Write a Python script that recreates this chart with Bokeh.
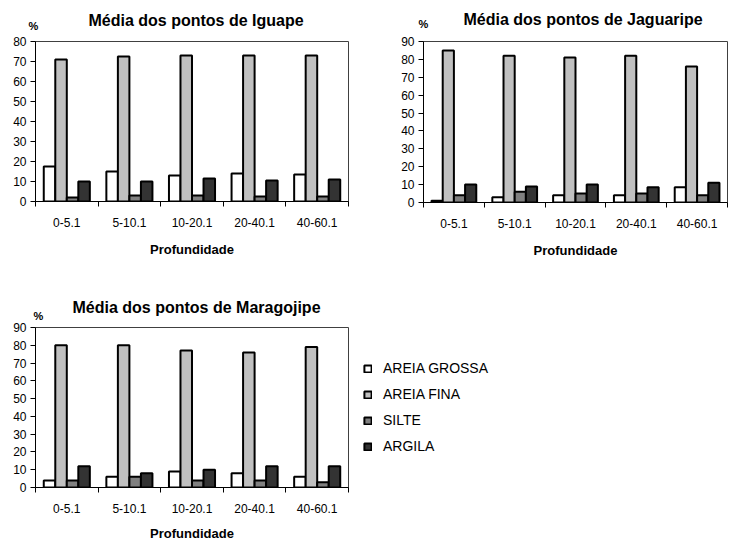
from bokeh.plotting import figure
from bokeh.models import (Range1d, FixedTicker, Title, Legend, LegendItem, ColumnDataSource)
from bokeh.transform import dodge
from bokeh.layouts import column, row
from bokeh.embed import file_html
from bokeh.resources import INLINE

# ---------------- data ----------------
categories = ["0-5.1", "5-10.1", "10-20.1", "20-40.1", "40-60.1"]
series_names = ["AREIA GROSSA", "AREIA FINA", "SILTE", "ARGILA"]

iguape_areia_grossa = [17.5, 15, 13, 14, 13.5]
iguape_areia_fina = [71, 72.5, 73, 73, 73]
iguape_silte = [2, 3, 3, 2.5, 2.5]
iguape_argila = [10, 10, 11.5, 10.5, 11]

jaguaripe_areia_grossa = [1, 3, 4, 4, 8.5]
jaguaripe_areia_fina = [85, 82, 81, 82, 76]
jaguaripe_silte = [4, 6, 5, 5, 4]
jaguaripe_argila = [10, 9, 10, 8.5, 11]

maragojipe_areia_grossa = [4, 6, 9, 8, 6]
maragojipe_areia_fina = [80, 80, 77, 76, 79]
maragojipe_silte = [4, 6, 4, 4, 3]
maragojipe_argila = [12, 8, 10, 12, 12]

y_ticks_iguape = [0, 10, 20, 30, 40, 50, 60, 70, 80]
y_ticks_90 = [0, 10, 20, 30, 40, 50, 60, 70, 80, 90]

# ---------------- style ----------------
FONT = "Liberation Sans"
COLORS = ["#FFFFFF", "#C0C0C0", "#808080", "#333333"]
OFFSETS = [-0.276, -0.092, 0.092, 0.276]
BAR_W = 0.184

N = len(categories)
cat_centers = [i + 0.5 for i in range(N)]
cat_edges = list(range(N + 1))


def make_chart(title, series, y_ticks, frame_w, frame_h, bl, br, bt, bb,
               title_off, pct_off, pct_standoff, title_standoff, xlabel_standoff,
               legend=False):
    p = figure(x_range=Range1d(0, N),
               y_range=Range1d(0, y_ticks[-1]),
               frame_width=frame_w, frame_height=frame_h,
               min_border_left=bl, min_border_right=br,
               min_border_top=bt, min_border_bottom=bb,
               toolbar_location=None, tools="",
               output_backend="svg")
    p.xgrid.visible = False
    p.ygrid.visible = False
    p.outline_line_color = "#404040"
    p.outline_line_width = 1
    p.background_fill_color = "white"
    p.border_fill_color = "white"

    # y axis
    ya = p.yaxis[0]
    ya.ticker = FixedTicker(ticks=y_ticks)
    ya.axis_line_color = "black"
    ya.major_tick_line_color = "black"
    ya.major_tick_in = 0
    ya.major_tick_out = 5
    ya.minor_tick_line_color = None
    ya.major_label_text_font = FONT
    ya.major_label_text_font_size = "12px"
    ya.major_label_text_color = "black"
    ya.major_label_standoff = 4

    # x axis: labels at category centres, tick marks at category edges
    xa = p.xaxis[0]
    xa.ticker = FixedTicker(ticks=cat_centers, minor_ticks=cat_edges)
    xa.major_label_overrides = {c: t for c, t in zip(cat_centers, categories)}
    xa.major_tick_line_color = None
    xa.major_tick_in = 0
    xa.major_tick_out = 0
    xa.minor_tick_line_color = "black"
    xa.minor_tick_in = 0
    xa.minor_tick_out = 5
    xa.axis_line_color = "black"
    xa.major_label_text_font = FONT
    xa.major_label_text_font_size = "12px"
    xa.major_label_text_color = "black"
    xa.major_label_standoff = 11
    xa.axis_label = "Profundidade"
    xa.axis_label_text_font = FONT
    xa.axis_label_text_font_size = "13px"
    xa.axis_label_text_font_style = "bold"
    xa.axis_label_text_color = "black"
    xa.axis_label_standoff = xlabel_standoff

    data = {"cat": categories, "pos": cat_centers}
    for name, vals in zip(series_names, series):
        data[name] = vals
    src = ColumnDataSource(data)
    renderers = []
    for name, off, col in zip(series_names, OFFSETS, COLORS):
        r = p.vbar(x=dodge("pos", off), top=name, width=BAR_W,
                   source=src, fill_color=col, line_color="black", line_width=2)
        renderers.append(r)

    p.add_layout(Title(text="%", align="left", offset=pct_off, standoff=pct_standoff,
                       text_font=FONT, text_font_size="11px", text_font_style="bold",
                       text_color="black"), "above")
    p.add_layout(Title(text=title, align="left", offset=title_off, standoff=title_standoff,
                       text_font=FONT, text_font_size="16px", text_font_style="bold",
                       text_color="black"), "above")

    if legend:
        items = [LegendItem(label=n, renderers=[r]) for n, r in zip(series_names, renderers)]
        lg = Legend(items=items, location="center_left", orientation="vertical",
                    border_line_color=None, background_fill_alpha=0,
                    label_text_font=FONT, label_text_font_size="14px",
                    label_text_color="black",
                    glyph_width=9, glyph_height=9, label_height=16,
                    spacing=10, label_standoff=11, margin=15, padding=10)
        p.add_layout(lg, "right")
    return p


p1 = make_chart("Média dos pontos de Iguape",
                [iguape_areia_grossa, iguape_areia_fina, iguape_silte, iguape_argila],
                y_ticks_iguape, 313, 160, 35, 22, 41, 67, 53, -7, 20, -43, 12)
p2 = make_chart("Média dos pontos de Jaguaripe",
                [jaguaripe_areia_grossa, jaguaripe_areia_fina, jaguaripe_silte, jaguaripe_argila],
                y_ticks_90, 304, 161, 53, 4, 39, 68, 40, -5, 24, -48, 12)
p3 = make_chart("Média dos pontos de Maragojipe",
                [maragojipe_areia_grossa, maragojipe_areia_fina, maragojipe_silte, maragojipe_argila],
                y_ticks_90, 313, 160, 35, 10, 59, 54, 37, -2, 11, -26, 10, legend=True)

layout = column(row(p1, p2), p3)

open("out.html", "w").write(file_html(layout, INLINE))
